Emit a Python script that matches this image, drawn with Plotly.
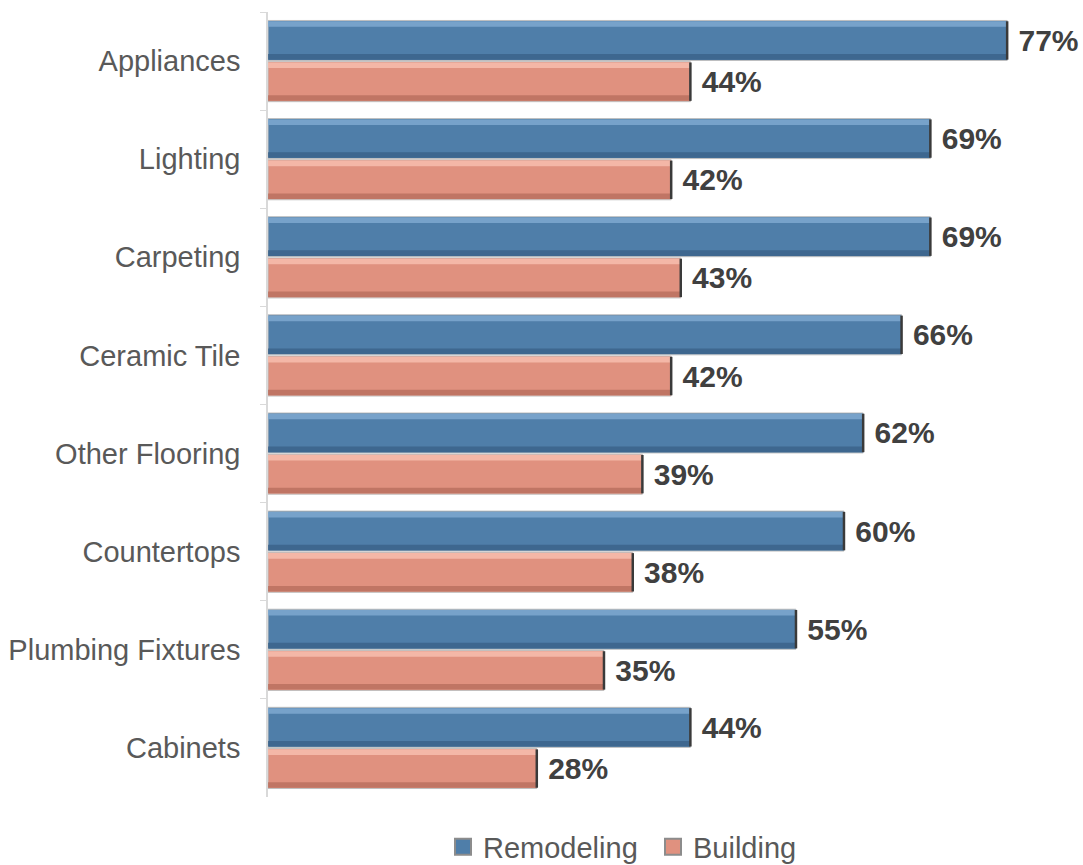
import plotly.graph_objects as go

# Share of respondents buying each product category
categories = ["Appliances", "Lighting", "Carpeting", "Ceramic Tile",
              "Other Flooring", "Countertops", "Plumbing Fixtures", "Cabinets"]
remodeling = [77, 69, 69, 66, 62, 60, 55, 44]
building = [44, 42, 43, 42, 39, 38, 35, 28]

series = [
    dict(name="Remodeling", values=remodeling, base="#4F7EA9", light="#7EA8D0", dark="#3A6288"),
    dict(name="Building", values=building, base="#E0917F", light="#F7BDAE", dark="#B86E5E"),
]

FONT = "Arial, Liberation Sans, sans-serif"
BARGAP = 0.16
GROUPGAP = 0.03
slot = (1 - BARGAP) / len(series)
bar_w = slot * (1 - GROUPGAP)

fig = go.Figure()
shapes = []
for k, s in enumerate(series):
    fig.add_trace(go.Bar(
        y=categories, x=s["values"], name=s["name"], orientation="h",
        marker=dict(color=s["base"], line=dict(color="#BFBFBF", width=1)),
        text=[f"\u00a0{v}%" for v in s["values"]],
        textposition="outside", cliponaxis=False, constraintext="none",
        textfont=dict(family=FONT, size=30, color="#404040"),
        texttemplate="<b>%{text}</b>",
        showlegend=False,
    ))
    # legend swatch drawn as a square marker
    fig.add_trace(go.Scatter(
        x=[None], y=[None], mode="markers", name=s["name"],
        marker=dict(symbol="square", size=16, color=s["base"],
                    line=dict(color="#8C8C8C", width=2)),
    ))
    # bevel strips and dark end cap laid over each bar
    for i, v in enumerate(s["values"]):
        c = i - (1 - BARGAP) / 2 + slot * (k + 0.5)
        top, bot = c - bar_w / 2, c + bar_w / 2
        h = bar_w
        shapes.append(dict(type="rect", xref="x", yref="y", x0=0, x1=v,
                           y0=top + 0.02 * h, y1=top + 0.16 * h,
                           fillcolor=s["light"], line_width=0, opacity=0.85, layer="above"))
        shapes.append(dict(type="rect", xref="x", yref="y", x0=0, x1=v,
                           y0=bot - 0.16 * h, y1=bot - 0.02 * h,
                           fillcolor=s["dark"], line_width=0, opacity=0.8, layer="above"))
        shapes.append(dict(type="line", xref="x", yref="y", x0=v, x1=v,
                           y0=top + 0.02 * h, y1=bot - 0.02 * h,
                           line=dict(color="#3A3A3A", width=2.5), layer="above"))

fig.update_layout(
    width=1083, height=865,
    margin=dict(l=268, r=0, t=12, b=68, autoexpand=False),
    barmode="group", bargap=BARGAP, bargroupgap=GROUPGAP,
    plot_bgcolor="white", paper_bgcolor="white",
    font=dict(family=FONT, size=29, color="#595959"),
    shapes=shapes,
    showlegend=True,
    legend=dict(orientation="h", xref="container", x=443 / 1083, xanchor="left",
                yref="container", y=(865 - 847) / 865, yanchor="middle",
                font=dict(size=29, color="#595959"), itemwidth=30,
                entrywidth=165, traceorder="normal"),
)
fig.update_xaxes(range=[0, 84.9], visible=False, showgrid=False, zeroline=False)
fig.update_yaxes(autorange="reversed", showgrid=False, zeroline=False,
                 showline=True, linecolor="#D9D9D9", linewidth=1.5,
                 ticks="outside", tickson="boundaries", ticklen=6, tickcolor="#D9D9D9",
                 ticklabelstandoff=20, tickfont=dict(size=29, color="#595959"))

fig.write_html("out.html")
